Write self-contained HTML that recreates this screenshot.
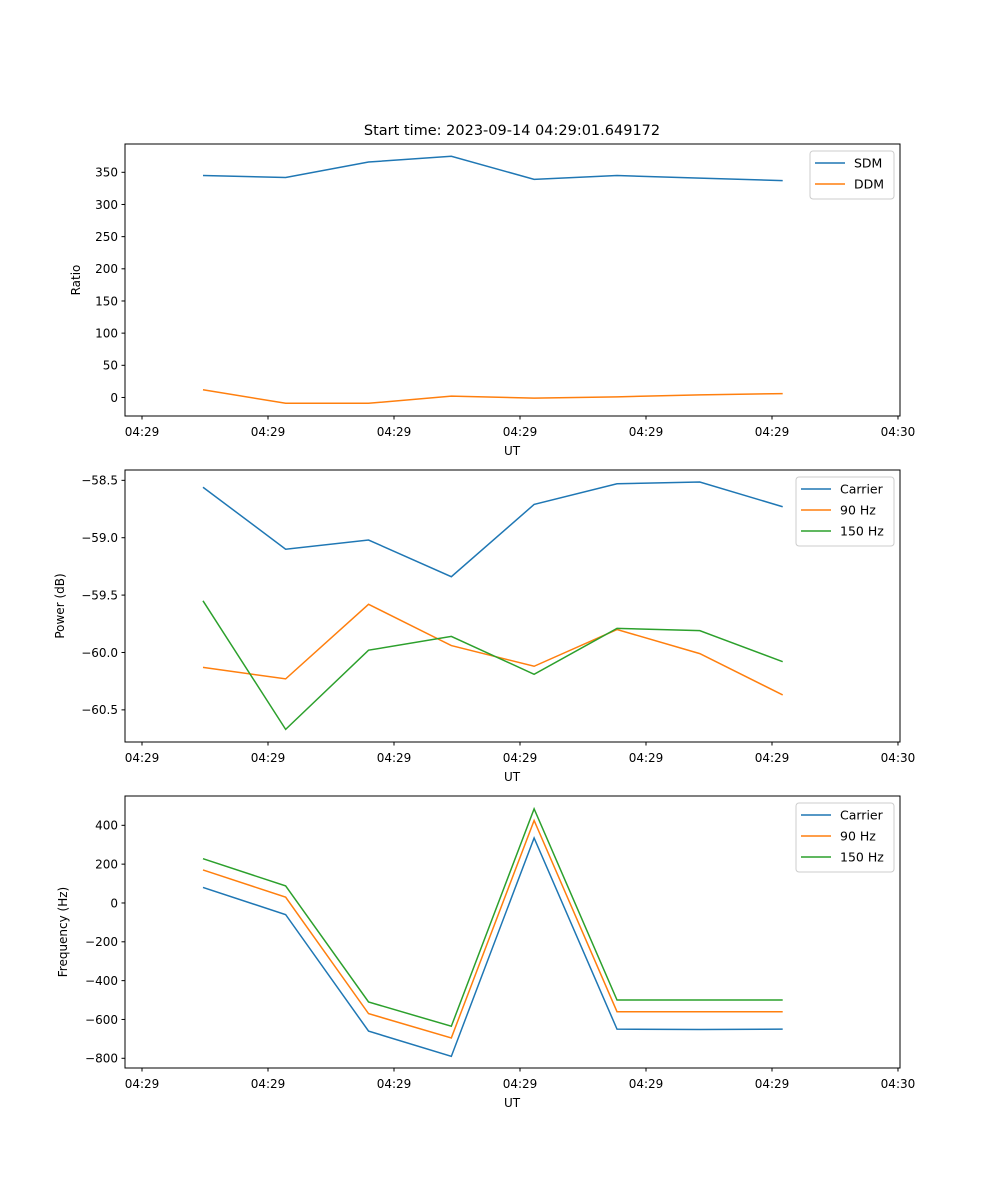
<!DOCTYPE html>
<html><head><meta charset="utf-8">
<style>
body{margin:0;background:#fff;}
svg{display:block;font-family:"DejaVu Sans","Liberation Sans",sans-serif;}
</style></head>
<body>
<svg id="chart" width="1000" height="1200" xmlns="http://www.w3.org/2000/svg">
<rect width="1000" height="1200" fill="#fff"/>
<text x="512" y="135" text-anchor="middle" font-size="14.5">Start time: 2023-09-14 04:29:01.649172</text>
</svg>
<script>
const times = [4.84, 11.4, 17.98, 24.55, 31.12, 37.7, 44.27, 50.85];
const xTickVals = [0, 10, 20, 30, 40, 50, 60];
const xTickLabels = ["04:29","04:29","04:29","04:29","04:29","04:29","04:30"];
const sdm = [345, 342, 366, 375, 339, 345, 341, 337];
const ddm = [12, -9, -9, 2, -1, 1, 4, 6];
const ratioTicks = [0, 50, 100, 150, 200, 250, 300, 350];
const powCarrier = [-58.56, -59.10, -59.02, -59.34, -58.71, -58.53, -58.515, -58.73];
const pow90 = [-60.13, -60.23, -59.58, -59.94, -60.12, -59.80, -60.01, -60.37];
const pow150 = [-59.55, -60.67, -59.98, -59.86, -60.19, -59.79, -59.81, -60.08];
const powTicks = [-60.5, -60.0, -59.5, -59.0, -58.5];
const freqCarrier = [80, -60, -660, -790, 335, -650, -652, -650];
const freq90 = [170, 30, -570, -695, 425, -560, -560, -560];
const freq150 = [228, 88, -510, -635, 485, -500, -500, -500];
const freqTicks = [-800, -600, -400, -200, 0, 200, 400];

const NS = "http://www.w3.org/2000/svg";
const svg = document.getElementById('chart');
function mk(tag, attrs, parent){const e=document.createElementNS(NS,tag);for(const k in attrs)e.setAttribute(k,attrs[k]);(parent||svg).appendChild(e);return e;}
const L=125,R=900,xMin=-1.35,xMax=60.16;
const xs=v=>L+(v-xMin)/(xMax-xMin)*(R-L);

function panel(name, top, bot, yMin, yMax, yTicks, fmt, ylabel, series, legendW){
  const ys=v=>bot-(v-yMin)/(yMax-yMin)*(bot-top);
  const g=mk('g',{});
  
  
  series.forEach(s=>{
    const p=mk('polyline',{points:s.vals.map((v,i)=>xs(times[i])+','+ys(v)).join(' '),fill:'none',stroke:s.color,'stroke-width':1.5},g);
    
    
  });
  const fr=mk('rect',{x:L,y:top,width:R-L,height:bot-top,fill:'none',stroke:'#000','stroke-width':1},g);
  
  
  xTickVals.forEach((v,i)=>{
    const x=xs(v);
    mk('line',{x1:x,x2:x,y1:bot,y2:bot+3.5,stroke:'#000'},g);
    const t=mk('text',{x:x,y:bot+20,'text-anchor':'middle','font-size':12},g);
    t.textContent=xTickLabels[i];
    
    
  });
  const xl=mk('text',{x:512,y:bot+39,'text-anchor':'middle','font-size':12},g);
  xl.textContent='UT';
  
  
  yTicks.forEach(v=>{
    const y=ys(v);
    mk('line',{x1:L-3.5,x2:L,y1:y,y2:y,stroke:'#000'},g);
    const t=mk('text',{x:L-7,y:y+4.3,'text-anchor':'end','font-size':12},g);
    t.textContent=fmt(v);
    
    
  });
  const lx = ylabel==='Ratio'?80:(ylabel==='Power (dB)'?64:67);
  const yl=mk('text',{x:lx,y:(top+bot)/2,'text-anchor':'middle','font-size':12,transform:`rotate(-90 ${lx} ${(top+bot)/2})`},g);
  yl.textContent=ylabel;
  
  
  const lg=mk('g',{},g);
  
  
  const lx0=R-6-legendW, ly0=top+7;
  mk('rect',{x:lx0,y:ly0,width:legendW,height:series.length*21+6,rx:3,fill:'#fff',stroke:'#ccc','stroke-width':1},lg);
  series.forEach((s,i)=>{
    const yy=ly0+12+i*21;
    mk('line',{x1:lx0+5,x2:lx0+35,y1:yy,y2:yy,stroke:s.color,'stroke-width':1.5},lg);
    const t=mk('text',{x:lx0+44,y:yy+4.5,'font-size':12.5},lg);
    t.textContent=s.label;
    
    
  });
}
const minus=s=>s.replace('-','\u2212');
panel('ratio',144,416,-28.8,394,ratioTicks,v=>minus(String(v)),'Ratio',
  [{key:'sdm',label:'SDM',vals:sdm,color:'#1f77b4'},{key:'ddm',label:'DDM',vals:ddm,color:'#ff7f0e'}],84);
panel('power',470,742,-60.78,-58.41,powTicks,v=>minus(v.toFixed(1)),'Power (dB)',
  [{key:'carrier',label:'Carrier',vals:powCarrier,color:'#1f77b4'},{key:'90hz',label:'90 Hz',vals:pow90,color:'#ff7f0e'},{key:'150hz',label:'150 Hz',vals:pow150,color:'#2ca02c'}],98);
panel('frequency',796,1068,-850,551,freqTicks,v=>minus(String(v)),'Frequency (Hz)',
  [{key:'carrier',label:'Carrier',vals:freqCarrier,color:'#1f77b4'},{key:'90hz',label:'90 Hz',vals:freq90,color:'#ff7f0e'},{key:'150hz',label:'150 Hz',vals:freq150,color:'#2ca02c'}],98);
</script>
</body></html>
